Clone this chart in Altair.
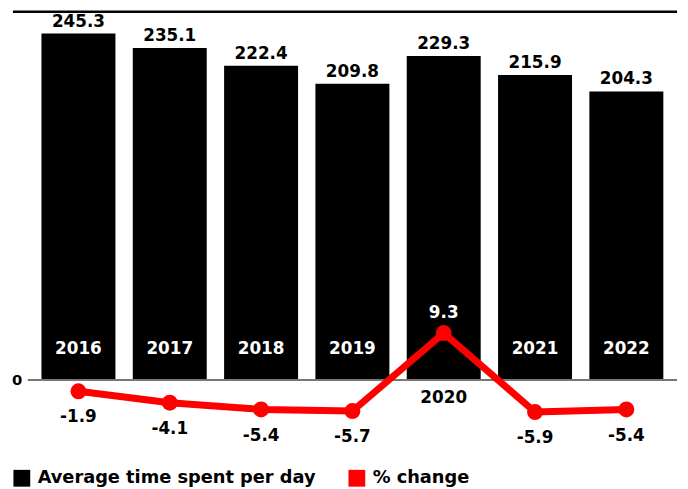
import altair as alt
import pandas as pd

years = ["2016", "2017", "2018", "2019", "2020", "2021", "2022"]
avg_time = [245.3, 235.1, 222.4, 209.8, 229.3, 215.9, 204.3]
pct_change = [-1.9, -4.1, -5.4, -5.7, 9.3, -5.9, -5.4]
series_names = ["Average time spent per day", "% change"]
series_colors = ["#000000", "#ff0000"]

df = pd.DataFrame({"year": years, "avg": avg_time, "pct": pct_change})

FONT = "DejaVu Sans"
FW = "bold"
FS = 17
W, H = 657, 432

x = alt.X("year:N", sort=years, axis=None,
          scale=alt.Scale(paddingInner=0.19, paddingOuter=0.15))
ybar_scale = alt.Scale(domain=[-40.94, 261.37], nice=False, zero=False)
yline_scale = alt.Scale(domain=[-10.84, 71.29], nice=False, zero=False)

base = alt.Chart(df)

bars = base.transform_calculate(series="'Average time spent per day'").mark_bar().encode(
    x=x,
    y=alt.Y("avg:Q", scale=ybar_scale, title=None,
            axis=alt.Axis(values=[0], domain=False, ticks=False, grid=False,
                          labelPadding=6, labelFont=FONT, labelFontSize=15,
                          labelFontWeight=FW, labelColor="black")),
    y2=alt.Y2Datum(0),
    color=alt.Color("series:N",
                    scale=alt.Scale(domain=series_names, range=series_colors),
                    legend=alt.Legend(orient="none", legendX=-15, legendY=464,
                                      direction="horizontal", title=None,
                                      symbolType="square", symbolSize=289,
                                      symbolStrokeWidth=0, symbolOpacity=1,
                                      labelFont=FONT, labelFontSize=18,
                                      labelFontWeight=FW, labelColor="black",
                                      labelLimit=0,
                                      labelOffset=7, columnPadding=32, padding=0)),
)

bar_labels = base.mark_text(font=FONT, fontSize=FS, fontWeight=FW,
                            baseline="alphabetic", dy=-7, color="black").encode(
    x=x,
    y=alt.Y("avg:Q", scale=ybar_scale),
    text=alt.Text("avg:N"),
)

year_in = base.transform_filter("datum.year != '2020'").mark_text(
    font=FONT, fontSize=FS, fontWeight=FW, baseline="alphabetic",
    dy=-26, color="white").encode(
    x=x,
    y=alt.YDatum(0, scale=ybar_scale),
    text="year:N",
)

year_out = base.transform_filter("datum.year == '2020'").mark_text(
    font=FONT, fontSize=FS, fontWeight=FW, baseline="alphabetic",
    dy=23.5, color="black").encode(
    x=x,
    y=alt.YDatum(0, scale=ybar_scale),
    text="year:N",
)

baseline = base.transform_filter("datum.year == '2016'").mark_rule(
    color="#777777", strokeWidth=2).encode(
    y=alt.YDatum(0, scale=ybar_scale),
    x=alt.value(0), x2=alt.value(W),
)

top_rule = base.transform_filter("datum.year == '2016'").mark_rule(
    color="black", strokeWidth=2.5).encode(
    y=alt.value(1), x=alt.value(-15), x2=alt.value(W),
)

bar_group = alt.layer(bars, bar_labels, year_in, year_out, baseline, top_rule)

line = base.mark_line(color="#ff0000", strokeWidth=7).encode(
    x=x,
    y=alt.Y("pct:Q", scale=yline_scale, axis=None),
)
points = base.mark_point(filled=True, size=260, color="#ff0000", opacity=1).encode(
    x=x,
    y=alt.Y("pct:Q", scale=yline_scale),
)
lab_neg = base.transform_filter("datum.pct < 0").mark_text(
    font=FONT, fontSize=FS, fontWeight=FW, baseline="alphabetic",
    dy=31.5, color="black").encode(
    x=x,
    y=alt.Y("pct:Q", scale=yline_scale),
    text="pct:N",
)
lab_pos = base.transform_filter("datum.pct >= 0").mark_text(
    font=FONT, fontSize=FS, fontWeight=FW, baseline="alphabetic",
    dy=-15, color="white").encode(
    x=x,
    y=alt.Y("pct:Q", scale=yline_scale),
    text="pct:N",
)

line_group = alt.layer(line, points, lab_neg, lab_pos)

chart = alt.layer(bar_group, line_group).resolve_scale(y="independent").properties(
    width=W, height=H,
    padding={"left": 20, "top": 0, "right": 3, "bottom": 48},
    autosize=alt.AutoSizeParams(type="none"),
).configure_view(stroke=None)

chart.save("out.html", embed_options={"renderer": "svg", "actions": False})
